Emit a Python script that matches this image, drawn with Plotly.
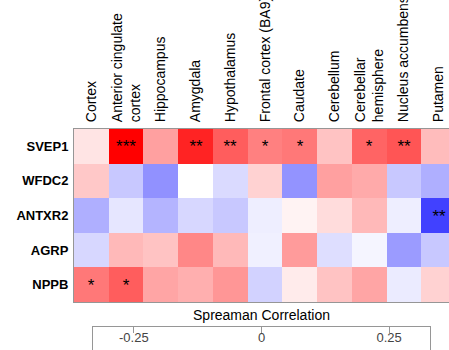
import plotly.graph_objects as go

regions = ["Cortex", "Anterior cingulate<br>cortex", "Hippocampus", "Amygdala", "Hypothalamus",
           "Frontal cortex (BA9)", "Caudate", "Cerebellum", "Cerebellar<br>hemisphere",
           "Nucleus accumbens", "Putamen"]
genes = ["SVEP1", "WFDC2", "ANTXR2", "AGRP", "NPPB"]

svep1 = [0.035, 0.34, 0.123, 0.285, 0.21, 0.165, 0.175, 0.078, 0.20, 0.22, 0.087]
wfdc2 = [0.071, -0.071, -0.142, 0.0, -0.048, 0.058, -0.14, 0.123, 0.11, -0.071, -0.104]
antxr2 = [-0.104, -0.032, -0.097, -0.052, -0.071, -0.022, 0.016, 0.045, 0.09, -0.022, -0.246]
agrp = [-0.052, 0.09, 0.078, 0.155, 0.09, -0.02, 0.13, -0.043, -0.013, -0.13, -0.071]
nppb = [0.175, 0.21, 0.116, 0.104, 0.136, -0.058, 0.026, 0.078, 0.116, -0.026, 0.058]

sig_svep1 = ["", "***", "", "**", "**", "*", "*", "", "*", "**", ""]
sig_wfdc2 = [""] * 11
sig_antxr2 = ["", "", "", "", "", "", "", "", "", "", "**"]
sig_agrp = [""] * 11
sig_nppb = ["*", "*", "", "", "", "", "", "", "", "", ""]

zlim = 0.33
cb_ticks = [-0.25, 0, 0.25]
cb_ticklabels = ["-0.25", "0", "0.25"]
cb_title = "Spreaman Correlation"

z = [svep1, wfdc2, antxr2, agrp, nppb]
stars = [sig_svep1, sig_wfdc2, sig_antxr2, sig_agrp, sig_nppb]

W, H = 449, 350
ml, mr, mt, mb = 74, 0, 129, 0
plot_h = H - mt - mb
plot_w = W - ml - mr
heat_bottom_px = 302
cb_top_px = 327
cb_left_px, cb_right_px = 93, 430

fig = go.Figure()
fig.add_trace(go.Heatmap(
    z=z, x=regions, y=genes, text=stars, texttemplate="%{text}",
    textfont=dict(size=17, color="black", family="Liberation Sans, Arial"),
    colorscale=[[0, "rgb(0,0,255)"], [0.5, "rgb(255,255,255)"], [1, "rgb(255,0,0)"]],
    zmin=-zlim, zmax=zlim, showscale=False, hoverongaps=False,
    xaxis="x", yaxis="y",
))
# invisible trace for the colour-scale axis
fig.add_trace(go.Scatter(x=[-zlim, zlim], y=[0, 0], mode="markers",
                         marker=dict(opacity=0), showlegend=False, hoverinfo="skip",
                         xaxis="x2", yaxis="y2"))

gray = "rgb(150,150,150)"
fig.update_layout(
    width=W, height=H, margin=dict(l=ml, r=mr, t=mt, b=mb, pad=0),
    paper_bgcolor="white", plot_bgcolor="white",
    font=dict(family="Liberation Sans, Arial", color="black"),
    showlegend=False,
    xaxis=dict(side="top", tickangle=-90, range=[-0.5, 10.3], showgrid=False, zeroline=False,
               showline=True, mirror=True, linecolor=gray, linewidth=1,
               tickfont=dict(size=14), ticks="", automargin=False, anchor="y",
               domain=[0, 1], ticklabelstandoff=3),
    yaxis=dict(autorange="reversed", showgrid=False, zeroline=False, showline=True,
               linecolor=gray, linewidth=1, tickfont=dict(size=13),
               ticks="", automargin=False, anchor="x",
               domain=[(H - mb - heat_bottom_px) / plot_h, 1],
               tickprefix="<b>", ticksuffix="</b>", ticklabelstandoff=2),
    xaxis2=dict(domain=[(cb_left_px - ml) / plot_w, (cb_right_px - ml) / plot_w],
                range=[-zlim, zlim], anchor="y2", side="top",
                tickvals=cb_ticks, ticktext=cb_ticklabels, ticks="inside", ticklen=6,
                tickcolor=gray, ticklabelposition="inside", tickfont=dict(size=13),
                showline=True, linecolor=gray, linewidth=1, mirror=True,
                showgrid=False, zeroline=False, automargin=False,
                title=dict(text=cb_title, font=dict(size=14), standoff=6)),
    yaxis2=dict(domain=[0, (H - mb - cb_top_px) / plot_h], range=[0, 1], anchor="x2",
                showticklabels=False, showgrid=False, zeroline=False, showline=True,
                linecolor=gray, linewidth=1, mirror=True, ticks="", automargin=False),
)

fig.write_html("out.html", config={"displayModeBar": False},
               post_script="document.body.style.margin='0px';document.body.style.overflow='hidden';")
